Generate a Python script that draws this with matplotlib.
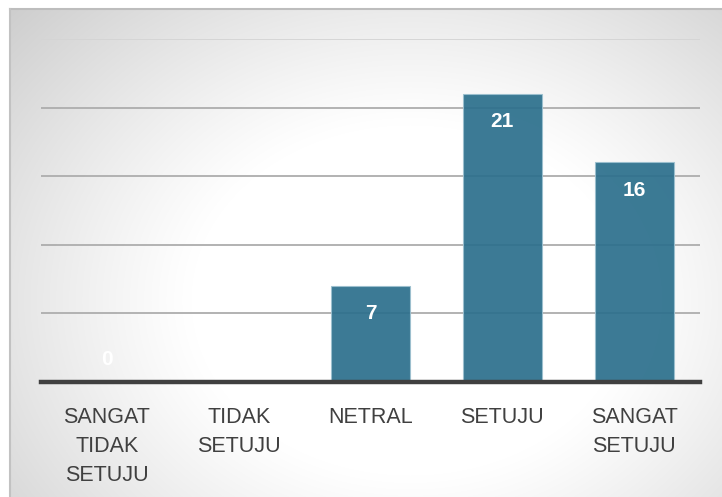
import numpy as np
from matplotlib import pyplot as plt

categories = ["SANGAT\nTIDAK\nSETUJU", "TIDAK\nSETUJU", "NETRAL", "SETUJU", "SANGAT\nSETUJU"]
counts = [0, np.nan, 7, 21, 16]
grid_values = [5, 10, 15, 20, 25]

W, H = 722, 497


def radial_background(fig):
    # grey panel with a soft white glow in the middle
    left = 10 / W
    top_px = 9
    bg = fig.add_axes([left, 0, 1 - left, (H - top_px) / H], zorder=-10)
    ny, nx = H - top_px, W - 10
    yy, xx = np.mgrid[0:ny, 0:nx]
    cx, cy = 410 - 10, 300 - top_px
    r = np.hypot((xx - cx) / 1.25, yy - cy)
    t = np.clip((r - 175) / 290, 0, 1)
    shade = 1.0 - 0.22 * t ** 1.1
    img = np.dstack([shade, shade, shade])
    bg.imshow(img, aspect="auto", interpolation="bilinear")
    bg.set_axis_off()
    # thin border along the top and left edge of the panel
    fig.add_artist(plt.Line2D([left, 1], [(H - top_px) / H] * 2, color="#bdbdbd", lw=1.5))
    fig.add_artist(plt.Line2D([left, left], [0, (H - top_px) / H], color="#c2c2c2", lw=1.5))


def main():
    plt.rcParams["font.family"] = ["Liberation Sans", "DejaVu Sans"]
    fig = plt.figure(figsize=(W / 100, H / 100), dpi=100)
    radial_background(fig)

    ax = fig.add_axes([41 / W, (H - 382) / H, 659 / W, 343 / H])
    ax.patch.set_alpha(0)

    x = np.arange(len(categories))
    for g in grid_values:
        col = "#d4d4d4" if g == grid_values[-1] else "#adadad"
        ax.axhline(g, color=col, lw=1.3, zorder=1)

    ax.bar(x, counts, width=0.6, color="#2b6f8c", alpha=0.92,
           edgecolor="#9cc0cf", linewidth=0.8, zorder=2)
    ax.axhline(0, color="#404040", lw=3.2, zorder=3, clip_on=False)

    for xi, v in zip(x, counts):
        if np.isnan(v):
            continue
        dy = -20 if v > 0 else 16
        ax.annotate(f"{v:g}", (xi, v), xytext=(0, dy), textcoords="offset points",
                    ha="center", va="center", color="white", fontsize=15,
                    fontweight="bold", zorder=4)

    ax.set_xlim(-0.5, len(categories) - 0.5)
    ax.set_ylim(0, 25)
    ax.set_xticks(x)
    ax.set_xticklabels(categories, fontsize=15.5, color="#404040", linespacing=1.5)
    ax.tick_params(axis="x", length=0, pad=18)
    ax.set_yticks([])
    for s in ax.spines.values():
        s.set_visible(False)

    fig.savefig("out.png", dpi=100)


if __name__ == "__main__":
    main()
